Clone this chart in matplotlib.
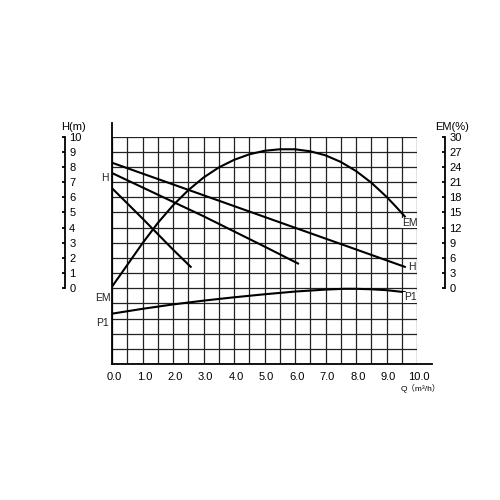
import matplotlib
matplotlib.use('Agg')
import matplotlib.pyplot as plt
import matplotlib.transforms as mtransforms

plt.rcParams['font.family'] = ['Liberation Sans', 'Noto Sans CJK SC', 'DejaVu Sans']

# Head curves (Q in m3/h, H in m)
h1_q = [0.0, 2.0, 4.0, 6.0, 8.0, 9.6]
h1_h = [8.28, 6.85, 5.42, 3.99, 2.56, 1.41]
h2_q = [0.0, 1.0, 2.0, 3.0, 4.0, 5.0, 6.1]
h2_h = [7.6, 6.65, 5.7, 4.75, 3.75, 2.75, 1.63]
h3_q = [0.0, 1.0, 2.0, 2.58]
h3_h = [6.6, 4.6, 2.55, 1.41]

# Efficiency curve (EM in %)
em_q = [0.0, 0.5, 1.0, 1.5, 2.0, 2.5, 3.0, 3.5, 4.0, 4.5, 5.0, 5.5, 6.0,
        6.5, 7.0, 7.5, 8.0, 8.5, 9.0, 9.3, 9.6]
em_pct = [0.3, 4.6, 8.9, 12.9, 16.4, 19.4, 21.9, 23.9, 25.4, 26.5, 27.2, 27.5, 27.5,
          27.1, 26.3, 25.0, 23.2, 20.9, 18.1, 16.2, 14.2]

# Input power curve (no scale shown, plotted in grid units)
p1_q = [0.0, 1.0, 2.0, 3.0, 4.0, 5.0, 6.0, 7.0, 7.6, 8.0, 8.5, 9.0, 9.6]
p1_level = [-1.68, -1.36, -1.07, -0.82, -0.6, -0.4, -0.22, -0.09, -0.04, -0.04, -0.07, -0.13, -0.26]

q_ticks = [0, 1, 2, 3, 4, 5, 6, 7, 8, 9, 10]
h_ticks = [0, 1, 2, 3, 4, 5, 6, 7, 8, 9, 10]
em_ticks = [0, 3, 6, 9, 12, 15, 18, 21, 24, 27, 30]

fig = plt.figure(figsize=(5, 5), dpi=100)
ax = fig.add_axes([0.224, 0.272, 0.61, 0.4547])
ax.set_xlim(0, 10)
ax.set_ylim(-5, 10)

# grid
for q in [i * 0.5 for i in range(21)]:
    ax.axvline(q, color='#222222', lw=0.9, zorder=1)
for h in range(-5, 11):
    ax.axhline(h, color='#222222', lw=0.9, zorder=1)

for s in ax.spines.values():
    s.set_visible(False)
ax.plot([0, 0], [-5, 10.9], color='black', lw=1.3, clip_on=False, zorder=3)
ax.plot([0, 10.5], [-5, -5], color='black', lw=1.3, clip_on=False, zorder=3)

ax.set_xticks(q_ticks)
ax.set_xticklabels(['%.1f' % v for v in q_ticks], fontsize=8)
ax.tick_params(axis='x', length=0, pad=6)
shift = mtransforms.ScaledTranslation(2 / 100, 0, fig.dpi_scale_trans)
for lab in ax.get_xticklabels():
    lab.set_transform(lab.get_transform() + shift)
ax.set_yticks([])

lw = 1.5
ax.plot(h1_q, h1_h, color='black', lw=lw, zorder=4)
ax.plot(h2_q, h2_h, color='black', lw=lw, zorder=4)
ax.plot(h3_q, h3_h, color='black', lw=lw, zorder=4)
ax.plot(p1_q, p1_level, color='black', lw=lw, zorder=4)

ax_em = ax.twinx()
ax_em.set_ylim(-15, 30)
ax_em.axis('off')
ax_em.plot(em_q, em_pct, color='black', lw=lw, zorder=4)

# curve labels
lab_kw = dict(fontsize=7.5, color='#222222', va='center', zorder=6)
bg = dict(facecolor='white', edgecolor='none', pad=0.3)
ax.text(-0.1, 7.3, 'H', ha='right', **lab_kw)
ax.text(-0.03, -0.65, 'EM', ha='right', **lab_kw)
ax.text(-0.1, -2.3, 'P1', ha='right', **lab_kw)
ax.text(9.5, 4.3, 'EM', ha='left', bbox=bg, **lab_kw)
ax.text(9.72, 1.42, 'H', ha='left', bbox=bg, **lab_kw)
ax.text(9.57, -0.6, 'P1', ha='left', bbox=bg, **lab_kw)

# left H scale
axl = fig.add_axes([0.13, 0.272, 0.0001, 0.4547])
axl.set_ylim(-5, 10)
axl.set_xticks([])
for k in ['left', 'top', 'bottom']:
    axl.spines[k].set_visible(False)
axl.spines['right'].set_bounds(0, 10)
axl.spines['right'].set_linewidth(1.3)
axl.yaxis.tick_right()
axl.set_yticks(h_ticks)
axl.tick_params(axis='y', direction='in', length=2, width=1.3, pad=3, labelsize=8)
fig.text(0.146, 0.745, 'H(m)', fontsize=8, ha='center', va='center')

# right EM scale
axr = fig.add_axes([0.89, 0.272, 0.0001, 0.4547])
axr.set_ylim(-15, 30)
axr.set_xticks([])
for k in ['left', 'top', 'bottom']:
    axr.spines[k].set_visible(False)
axr.spines['right'].set_bounds(0, 30)
axr.spines['right'].set_linewidth(1.3)
axr.yaxis.tick_right()
axr.set_yticks(em_ticks)
axr.tick_params(axis='y', direction='in', length=2, width=1.3, pad=3, labelsize=8)
fig.text(0.905, 0.745, 'EM(%)', fontsize=8, ha='center', va='center')

fig.text(0.842, 0.224, 'Q（m³/h）', fontsize=6, ha='center', va='center')

fig.savefig('out.png', dpi=100)
plt.close(fig)
